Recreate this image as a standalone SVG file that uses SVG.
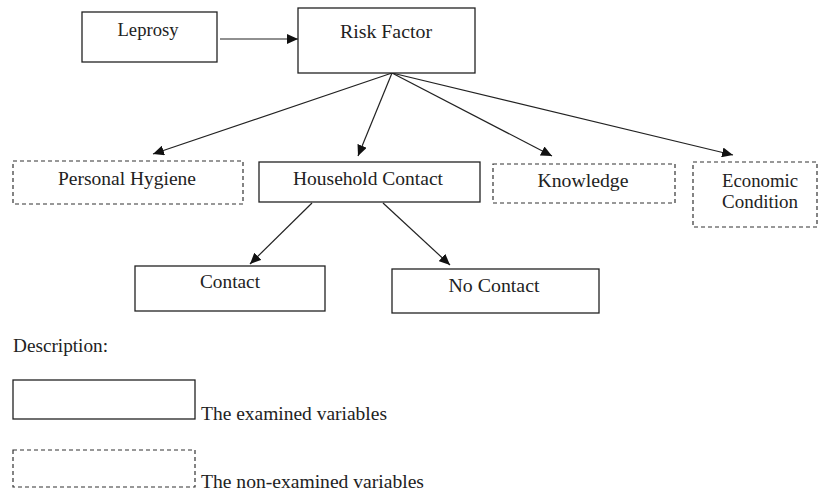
<svg xmlns="http://www.w3.org/2000/svg" width="819" height="495" viewBox="0 0 819 495">
<style>
text{font-family:"Liberation Serif","DejaVu Serif",serif;font-size:19px;fill:#222}
.c{text-anchor:middle}
.box{fill:#fff;stroke:#222;stroke-width:1.3}
.dash{fill:#fff;stroke:#333;stroke-width:1.2;stroke-dasharray:4 3}
.edge{stroke:#222;stroke-width:1.2;fill:none;marker-end:url(#ah)}
</style>
<defs>
<marker id="ah" markerUnits="userSpaceOnUse" markerWidth="12" markerHeight="10" refX="11" refY="5" orient="auto">
<path d="M0,0 L11,5 L0,10 Z" fill="#111"/>
</marker>
</defs>
<rect width="819" height="495" fill="#fff"/>
<g id="connectors">
<line class="edge" x1="220" y1="39" x2="298" y2="39"/>
<line class="edge" x1="392" y1="73" x2="153" y2="154"/>
<line class="edge" x1="392" y1="73" x2="358" y2="156"/>
<line class="edge" x1="392" y1="73" x2="552" y2="156"/>
<line class="edge" x1="392" y1="73" x2="733" y2="155"/>
<line class="edge" x1="312" y1="203" x2="250" y2="264"/>
<line class="edge" x1="383" y1="203" x2="450" y2="265"/>
</g>
<g id="leprosy"><rect class="box" x="82" y="12" width="135" height="50"/><text class="c" x="148" y="36" textLength="61" lengthAdjust="spacingAndGlyphs" font-family="Liberation Serif">Leprosy</text></g>
<g id="risk-factor"><rect class="box" x="298" y="8" width="177" height="65"/><text class="c" x="386" y="38" textLength="92" lengthAdjust="spacingAndGlyphs">Risk Factor</text></g>
<g id="personal-hygiene"><rect class="dash" x="13" y="161" width="230" height="43"/><text class="c" x="127" y="185" textLength="138" lengthAdjust="spacingAndGlyphs">Personal Hygiene</text></g>
<g id="household-contact"><rect class="box" x="259" y="162" width="221" height="40"/><text class="c" x="368" y="185" textLength="150" lengthAdjust="spacingAndGlyphs">Household Contact</text></g>
<g id="knowledge"><rect class="dash" x="493" y="164" width="182" height="39"/><text class="c" x="583" y="187" textLength="91" lengthAdjust="spacingAndGlyphs">Knowledge</text></g>
<g id="economic-condition"><rect class="dash" x="693" y="162" width="124" height="65"/><text class="c" x="760" y="187" textLength="76" lengthAdjust="spacingAndGlyphs">Economic</text><text class="c" x="760" y="208" textLength="76" lengthAdjust="spacingAndGlyphs">Condition</text></g>
<g id="contact"><rect class="box" x="135" y="266" width="190" height="45"/><text class="c" x="230" y="288" textLength="60" lengthAdjust="spacingAndGlyphs">Contact</text></g>
<g id="no-contact"><rect class="box" x="392" y="269" width="207" height="44"/><text class="c" x="494" y="292" textLength="91" lengthAdjust="spacingAndGlyphs">No Contact</text></g>
<g id="legend">
<text x="13" y="352" textLength="95" lengthAdjust="spacingAndGlyphs">Description:</text>
<rect class="box" x="13" y="380" width="182" height="39"/>
<text x="201" y="420" textLength="186" lengthAdjust="spacingAndGlyphs">The examined variables</text>
<rect class="dash" x="13" y="450" width="182" height="37"/>
<text x="201" y="488" textLength="223" lengthAdjust="spacingAndGlyphs">The non-examined variables</text>
</g>
</svg>
